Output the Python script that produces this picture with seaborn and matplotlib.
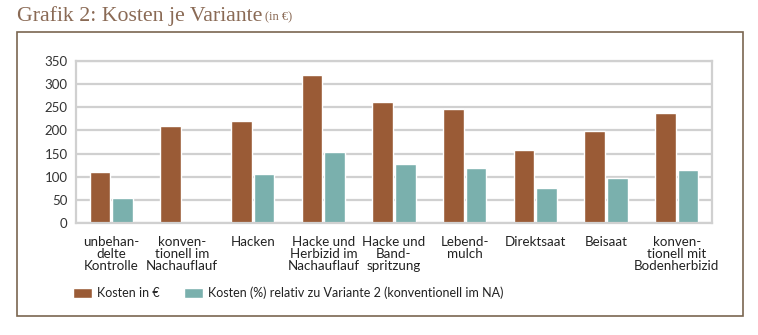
import matplotlib
matplotlib.use("Agg")
import matplotlib.pyplot as plt
import matplotlib.patches as mpatches
import numpy as np
import pandas as pd
import seaborn as sns

categories = [
    "unbehan-\ndelte\nKontrolle",
    "konven-\ntionell im\nNachauflauf",
    "Hacken",
    "Hacke und\nHerbizid im\nNachauflauf",
    "Hacke und\nBand-\nspritzung",
    "Lebend-\nmulch",
    "Direktsaat",
    "Beisaat",
    "konven-\ntionell mit\nBodenherbizid",
]
kosten_eur = [110, 209, 220, 320, 261, 246, 157, 199, 237]
kosten_rel = [54, np.nan, 105, 153, 127, 118, 75, 97, 114]
series_names = ["Kosten in €", "Kosten (%) relativ zu Variante 2 (konventionell im NA)"]
yticks = [0, 50, 100, 150, 200, 250, 300, 350]

brown = "#9a5b36"
teal = "#7ab0ad"

df = pd.DataFrame({
    "Variante": categories * 2,
    "Wert": kosten_eur + kosten_rel,
    "Serie": [series_names[0]] * len(categories) + [series_names[1]] * len(categories),
})

sns.set_style("white")
plt.rcParams["font.family"] = ["Lato", "DejaVu Sans"]

fig = plt.figure(figsize=(7.58, 3.35), dpi=100)
ax = fig.add_axes([76 / 758, 1 - 223 / 335, (712 - 76) / 758, (223 - 61) / 335])

sns.barplot(data=df, x="Variante", y="Wert", hue="Serie", order=categories,
            hue_order=series_names, palette=[brown, teal], width=0.64, gap=0.08,
            saturation=1, ax=ax, legend=True)

ax.set_ylim(0, 350)
ax.set_xlim(-0.5, len(categories) - 0.5)
ax.set_yticks(yticks)
ax.set_yticklabels([str(t) for t in yticks], fontsize=9.5, color="#333333")
ax.set_xticks(range(len(categories)))
ax.set_xticklabels(categories, fontsize=9.6, color="#222222", linespacing=1.0, va="top")
ax.tick_params(axis="both", length=0, pad=6)
ax.tick_params(axis="x", pad=9)
ax.set_xlabel("")
ax.set_ylabel("")
ax.yaxis.grid(True, color="#d0d0d0", linewidth=1.6)
ax.set_axisbelow(True)
for s in ax.spines.values():
    s.set_color("#d0d0d0")
    s.set_linewidth(1.6)

handles, labels = ax.get_legend_handles_labels()
ax.legend(handles, labels, ncol=2, frameon=False, loc="lower left",
          bbox_to_anchor=(68 / 758, 1 - 304 / 335), bbox_transform=fig.transFigure,
          fontsize=9, handlelength=1.5, handleheight=0.9, columnspacing=2.0,
          handletextpad=0.4, borderaxespad=0)
for t in ax.get_legend().get_texts():
    t.set_color("#222222")

# outer frame
fig.patches.append(mpatches.Rectangle((17 / 758, 1 - 316 / 335), (743 - 17) / 758, (316 - 32) / 335,
                                      transform=fig.transFigure, fill=False,
                                      edgecolor="#7a6650", linewidth=1.2))

title = fig.text(17 / 758, 1 - 20.5 / 335, "Grafik 2: Kosten je Variante", fontsize=15.7,
                 family=["Liberation Serif", "DejaVu Serif"], color="#8a6a55",
                 ha="left", va="baseline")
fig.canvas.draw()
bb = title.get_window_extent(renderer=fig.canvas.get_renderer())
fig.text((bb.x1 + 3) / (fig.dpi * fig.get_figwidth()), 1 - 20.5 / 335, "(in €)", fontsize=9,
         family=["Liberation Serif", "DejaVu Serif"], color="#8a6a55", ha="left", va="baseline")

fig.savefig("out.png", dpi=100)
